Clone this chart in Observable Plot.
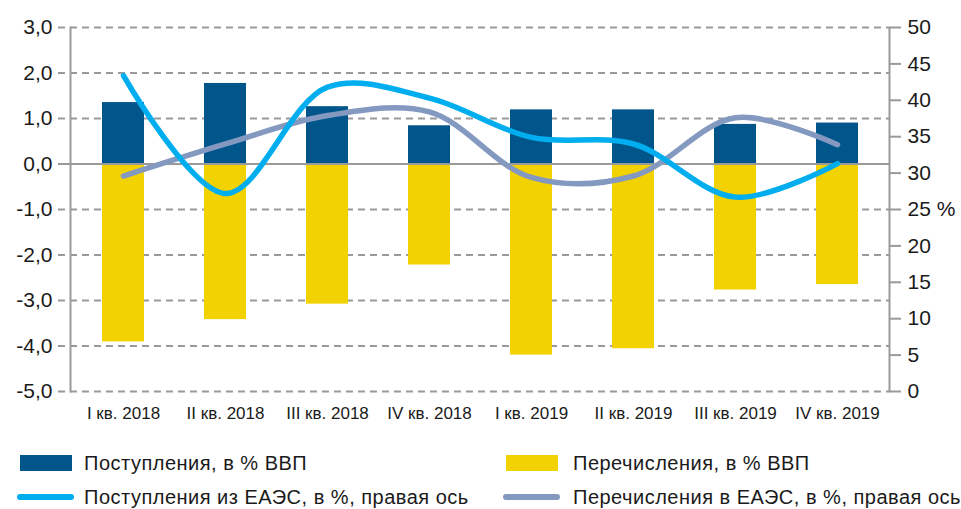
<!DOCTYPE html>
<html>
<head>
<meta charset="utf-8">
<script src="https://cdn.jsdelivr.net/npm/d3@7"></script>
<script src="https://cdn.jsdelivr.net/npm/@observablehq/plot@0.6"></script>
<style>
  html, body { margin: 0; padding: 0; background: #fff; }
  #wrap { position: relative; width: 961px; height: 509px; font-family: "Liberation Sans", Arial, sans-serif; }
  .leg { position: absolute; font-family: "Liberation Sans", Arial, sans-serif; font-size: 20px; letter-spacing: 0.5px; color: #1a1a1a; white-space: nowrap; line-height: 1; }
  .sw { position: absolute; }
</style>
</head>
<body>
<div id="wrap">
  <div id="chart"></div>
  <div id="legend"></div>
</div>
<script>
const categories = ["I кв. 2018", "II кв. 2018", "III кв. 2018", "IV кв. 2018", "I кв. 2019", "II кв. 2019", "III кв. 2019", "IV кв. 2019"];
const receiptsGDP = [1.35, 1.77, 1.26, 0.84, 1.19, 1.19, 0.87, 0.90];
const transfersGDP = [-3.91, -3.42, -3.08, -2.22, -4.20, -4.06, -2.77, -2.65];
const receiptsEAEU = [43.4, 27.2, 41.8, 40.3, 34.9, 34.0, 26.7, 31.3];
const transfersEAEU = [29.6, 34.0, 37.9, 38.4, 29.4, 29.6, 37.6, 33.9];
const leftTicks = [-5, -4, -3, -2, -1, 0, 1, 2, 3];
const rightTicks = [0, 5, 10, 15, 20, 25, 30, 35, 40, 45, 50];
const seriesNames = ["Поступления, в % ВВП", "Перечисления, в % ВВП", "Поступления из ЕАЭС, в %, правая ось", "Перечисления в ЕАЭС, в %, правая ось"];

const colors = {dark: "#00558b", yellow: "#f2d200", blue: "#00aeef", gray: "#8499c0", grid: "#9a9a9a"};

// map right-axis value (0..50) onto left-axis domain (-5..3)
const toLeft = v => v / 50 * 8 - 5;
const fromLeft = d => Math.round((d + 5) * 50 / 8);

const bars = categories.map((c, i) => ({c, rec: receiptsGDP[i], tr: transfersGDP[i]}));
const lineA = categories.map((c, i) => ({c, y: toLeft(receiptsEAEU[i])}));
const lineB = categories.map((c, i) => ({c, y: toLeft(transfersEAEU[i])}));

const fmt = d => d.toFixed(1).replace(".", ",");

const chart = Plot.plot({
  width: 961,
  height: 430,
  marginLeft: 70,
  marginRight: 72,
  marginTop: 27,
  marginBottom: 39,
  style: {fontFamily: "'Liberation Sans', Arial, sans-serif", color: "#1a1a1a", background: "#fff"},
  x: {domain: categories, paddingInner: 0.59, paddingOuter: 0.295, axis: null, label: null},
  y: {domain: [-5, 3], axis: null, label: null},
  marks: [
    Plot.ruleY(leftTicks.filter(d => d !== 0), {stroke: colors.grid, strokeWidth: 2, strokeDasharray: "7,5", insetLeft: -12}),
    Plot.barY(bars, {x: "c", y1: 0, y2: "rec", fill: colors.dark}),
    Plot.barY(bars, {x: "c", y1: 0, y2: "tr", fill: colors.yellow}),
    Plot.ruleY([0], {stroke: colors.grid, strokeWidth: 2, insetLeft: -12}),
    Plot.frame({anchor: "left", stroke: colors.grid, strokeWidth: 2}),
    Plot.frame({anchor: "right", stroke: colors.grid, strokeWidth: 2}),
    Plot.line(lineB, {x: "c", y: "y", stroke: colors.gray, strokeWidth: 5.5, curve: "catmull-rom", strokeLinecap: "round"}),
    Plot.line(lineA, {x: "c", y: "y", stroke: colors.blue, strokeWidth: 5.5, curve: "catmull-rom", strokeLinecap: "round"}),
    Plot.axisY(leftTicks, {anchor: "left", tickSize: 0, tickPadding: 18, tickFormat: fmt, fontSize: 21, label: null}),
    Plot.axisY(rightTicks.map(toLeft), {anchor: "right", tickSize: 11, tickPadding: 7, stroke: colors.grid, strokeWidth: 2, tickFormat: d => fromLeft(d) === 25 ? "25 %" : String(fromLeft(d)), fontSize: 21, label: null}),
    Plot.axisX({anchor: "bottom", tickSize: 0, tickPadding: 15, fontSize: 17, label: null})
  ]
});
document.getElementById("chart").appendChild(chart);

const legend = document.getElementById("legend");
const items = [
  {name: seriesNames[0], kind: "rect", color: colors.dark, x: 20, tx: 84, y: 463},
  {name: seriesNames[1], kind: "rect", color: colors.yellow, x: 506, tx: 573, y: 463},
  {name: seriesNames[2], kind: "line", color: colors.blue, x: 17, tx: 84, y: 497},
  {name: seriesNames[3], kind: "line", color: colors.gray, x: 503, tx: 573, y: 497}
];
for (const it of items) {
  const sw = document.createElement("div");
  sw.className = "sw";
  if (it.kind === "rect") {
    Object.assign(sw.style, {left: it.x + "px", top: (it.y - 8) + "px", width: "52px", height: "16px", background: it.color});
  } else {
    Object.assign(sw.style, {left: it.x + "px", top: (it.y - 3) + "px", width: "57px", height: "6px", background: it.color, borderRadius: "3px"});
  }
  legend.appendChild(sw);
  const t = document.createElement("div");
  t.className = "leg";
  t.textContent = it.name;
  Object.assign(t.style, {left: it.tx + "px", top: (it.y - 10) + "px"});
  legend.appendChild(t);
}
</script>
</body>
</html>
